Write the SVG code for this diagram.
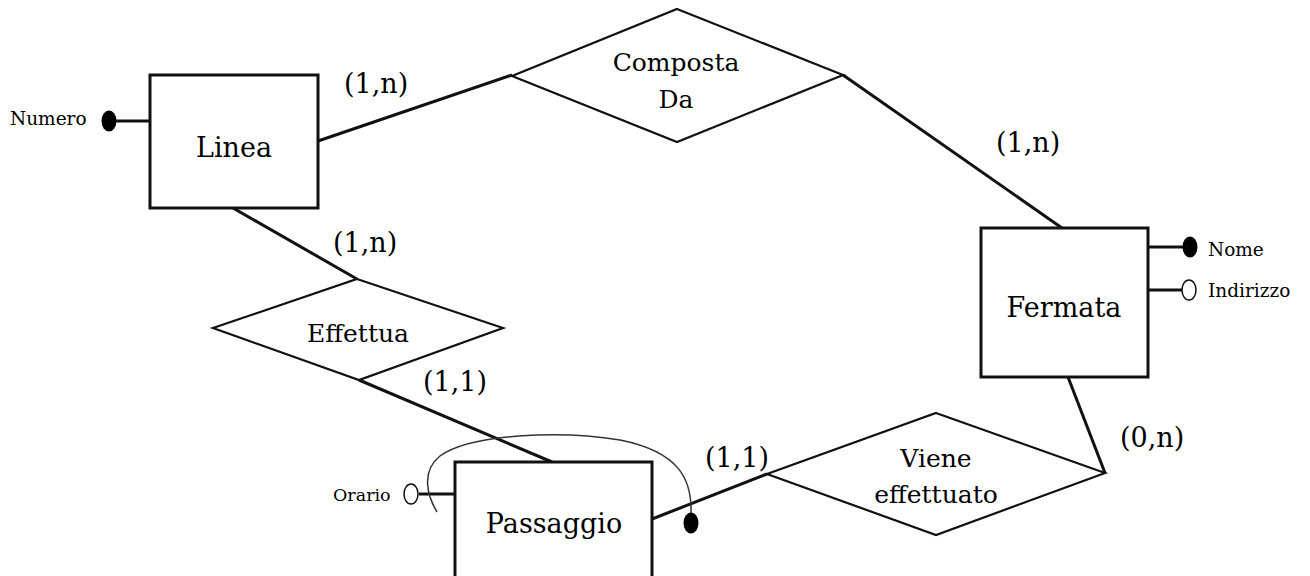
<svg xmlns="http://www.w3.org/2000/svg" width="1310" height="576" viewBox="0 0 1310 576">
<style>
text{font-family:"DejaVu Serif","Liberation Serif",serif;fill:#000}
.ent{fill:#fff;stroke:#111;stroke-width:3}
.rel{fill:#fff;stroke:#111;stroke-width:2.2}
.elbl{font-size:27px;text-anchor:middle}
.rlbl{font-size:25px;text-anchor:middle}
.card{font-size:27px}
.attr{font-size:18.5px}
.ln{stroke:#111;stroke-width:3;fill:none}
.thin{stroke:#333;stroke-width:1.5;fill:none}
</style>
<rect width="1310" height="576" fill="#fff"/>
<g id="connectors">
<line class="ln" x1="318" y1="141" x2="512" y2="75"/>
<line class="ln" x1="843" y1="75" x2="1062" y2="228"/>
<line class="ln" x1="233" y1="208" x2="357" y2="279"/>
<line class="ln" x1="359" y1="380" x2="552" y2="462"/>
<line class="ln" x1="652" y1="519" x2="767" y2="474"/>
<line class="ln" x1="1068" y1="377" x2="1105" y2="473"/>
</g>
<g id="Linea">
<rect class="ent" x="150" y="75" width="168" height="133"/>
<text class="elbl" x="234" y="157">Linea</text>
</g>
<g id="attr-Numero">
<line class="ln" x1="112" y1="121" x2="150" y2="121"/>
<ellipse cx="109" cy="121" rx="7.5" ry="10.5" fill="#000"/>
<text class="attr" x="10" y="125">Numero</text>
</g>
<g id="CompostaDa">
<polygon class="rel" points="677,9 843,75 677,142 512,76"/>
<text class="rlbl" x="676" y="71">Composta</text>
<text class="rlbl" x="676" y="108">Da</text>
</g>
<g id="Fermata">
<rect class="ent" x="981" y="228" width="167" height="149"/>
<text class="elbl" x="1064" y="317">Fermata</text>
</g>
<g id="attr-Nome">
<line class="ln" x1="1148" y1="247" x2="1186" y2="247"/>
<ellipse cx="1190" cy="247" rx="7.5" ry="10.5" fill="#000"/>
<text class="attr" x="1208" y="256">Nome</text>
</g>
<g id="attr-Indirizzo">
<line class="ln" x1="1148" y1="290" x2="1182" y2="290"/>
<ellipse cx="1189" cy="290" rx="7" ry="10" fill="#fff" stroke="#111" stroke-width="1.5"/>
<text class="attr" x="1208" y="297">Indirizzo</text>
</g>
<g id="Effettua">
<polygon class="rel" points="357,279 503,328 359,380 213,328"/>
<text class="rlbl" x="358" y="342">Effettua</text>
</g>
<g id="Passaggio">
<rect class="ent" x="455" y="462" width="197" height="130"/>
<text class="elbl" x="554" y="533">Passaggio</text>
</g>
<g id="attr-Orario">
<line class="ln" x1="419" y1="494" x2="455" y2="494"/>
<ellipse cx="411" cy="494" rx="7" ry="10" fill="#fff" stroke="#111" stroke-width="1.5"/>
<text class="attr" x="333" y="501" style="font-size:17.5px">Orario</text>
</g>
<g id="identifier-Passaggio">
<path class="thin" d="M437,512 C428,497 420,472 440,456 C470,434 560,430 620,440 C680,452 692,480 691,513"/>
<ellipse cx="691" cy="523" rx="7.5" ry="10.5" fill="#000"/>
</g>
<g id="VieneEffettuato">
<polygon class="rel" points="936,413 1105,473 936,535 767,474"/>
<text class="rlbl" x="936" y="467">Viene</text>
<text class="rlbl" x="936" y="503">effettuato</text>
</g>
<g id="cardinalities">
<text class="card" x="344" y="93">(1,n)</text>
<text class="card" x="996" y="152">(1,n)</text>
<text class="card" x="333" y="252">(1,n)</text>
<text class="card" x="423" y="391">(1,1)</text>
<text class="card" x="705" y="467">(1,1)</text>
<text class="card" x="1120" y="447">(0,n)</text>
</g>
</svg>
